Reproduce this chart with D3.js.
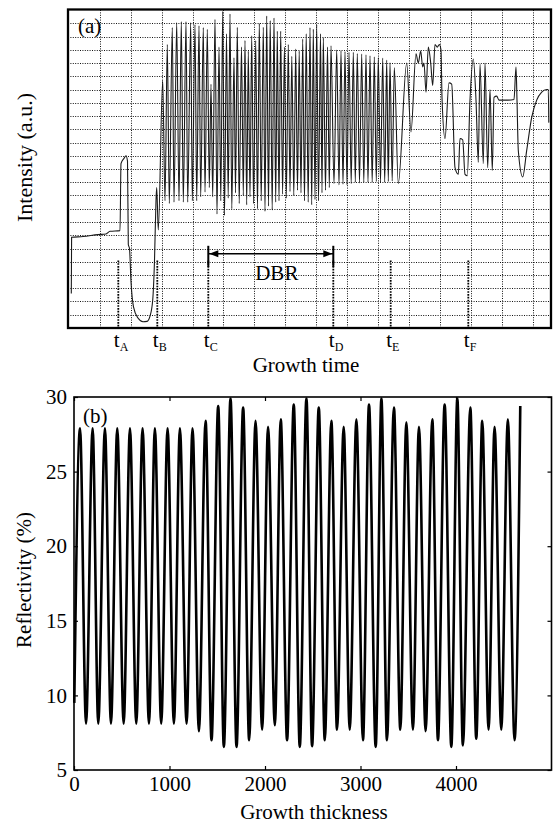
<!DOCTYPE html>
<html>
<head>
<meta charset="utf-8">
<script src="https://cdn.jsdelivr.net/npm/d3@7"></script>
<style>
  body { margin: 0; background: #fff; }
  text { font-family: "Liberation Serif", "DejaVu Serif", serif; fill: #000; }
</style>
</head>
<body>
<script>
// Panel (a): in-situ intensity trace vs growth time, panel (b): reflectivity vs thickness

const width = 553;
const height = 827;

// ---- panel (a) data: [time, intensity] pieces of the trace
const introTrace = [
    [3.3, 2.6], [3.6, 6.85], [15, 6.9], [30, 7.05], [38, 7.1], [42, 7.3], [52, 7.35],
    [53, 12.4], [56, 12.8], [58, 13.0], [59.5, 12.6], [60.3, 6.3], [61.5, 6.0], [63, 3.5],
    [65.5, 1.6], [70, 0.75], [75, 0.47], [79, 0.5], [82, 0.9], [84.7, 2.1], [86.5, 5.1],
    [88, 9.6], [88.7, 10.6]
];
const bufferTrace = [
    [90.3, 7.4], [94.7, 18.7], [97, 9.6], [99.3, 21.4], [101.3, 9.4], [104.3, 22.67],
    [106, 9.5], [108.7, 23.05], [111, 9.6], [113.3, 23.13], [115.3, 9.5], [118, 23.13],
    [119.7, 9.5], [122.7, 23.05], [124.3, 9.6], [127, 22.9], [128.7, 9.6], [131, 22.8],
    [132.7, 9.9], [135.3, 22.67], [137, 10.26], [139.3, 22.55], [141.3, 10.6]
];
const dbrTrace = [
    [143, 18.4], [144.7, 9.9], [147, 23.3], [149, 8.6], [151, 21.2], [152.8, 9.6],
    [154.7, 23.9], [156.5, 8.5], [158.5, 22.2], [160.2, 9.8], [162, 23.7], [163.8, 9.0],
    [166, 20.4], [167.5, 10.2], [169.3, 22.7], [171.2, 9.4], [173.5, 21.2], [175.3, 10.0],
    [177, 21.7], [178.7, 9.3], [180.3, 20.9], [182, 9.9], [183.7, 22.05], [185.6, 9.4],
    [187.7, 21.7], [189.5, 9.0], [191.3, 23.0], [193.2, 9.6], [195.3, 22.7], [197, 8.8],
    [198.7, 23.55], [200.5, 9.2], [202.2, 23.2], [204.2, 8.9], [206, 23.4], [207.7, 9.5],
    [209.3, 22.4], [211, 9.6], [212.7, 22.4], [214.6, 10.1], [216.4, 21.2], [218.3, 9.8],
    [220.3, 21.4], [222, 10.3], [223.8, 20.5], [225.8, 10.0], [227.7, 21.05], [229.5, 10.4],
    [231.2, 20.9], [233, 10.2], [234.7, 21.8], [236.5, 9.6], [238.2, 22.2], [240.2, 9.5],
    [242, 22.67], [243.7, 9.3], [245.3, 22.55], [247, 9.7], [248.7, 22.9], [250.5, 9.6],
    [252.5, 22.2], [254, 10.2], [255.3, 21.9], [257.5, 10.4], [259.5, 21.2], [261.3, 10.6],
    [263, 21.3], [266, 10.9]
];
const tailTrace = [
    [268.7, 20.97], [271, 10.8], [273, 20.92], [275, 10.85], [277, 20.87], [279, 10.8],
    [281, 20.8], [283.2, 10.9], [285.3, 20.8], [287.3, 11.0], [289.3, 20.72], [291.5, 10.95],
    [293.7, 20.67], [295.8, 11.0], [298, 20.62], [300, 11.0], [302, 20.54], [304.2, 11.0],
    [306.3, 20.47], [308.3, 11.05], [310.3, 20.42], [312.5, 11.0], [314.7, 20.37], [316.7, 11.0],
    [318.7, 20.22], [320.3, 11.05], [322, 20.04], [324.2, 11.1], [326.3, 19.66], [330.3, 10.9]
];
const endTrace = [
    [338.7, 20.0], [343, 14.8], [348, 20.7], [350.3, 20.0], [352.7, 20.9], [354.7, 19.7],
    [356, 20.0], [358, 17.8], [360.3, 21.2], [362.7, 20.0], [364.7, 18.3], [367, 21.4],
    [369.3, 21.2], [371.3, 21.4], [373, 21.0], [374, 17.4], [377, 14.3], [381, 18.5],
    [383.7, 18.4], [387, 12.1], [390.3, 11.6], [392, 14.3], [394.7, 14.2], [397, 11.6],
    [399.3, 11.5], [402, 17.2], [405.3, 20.3], [408, 17.2], [410.3, 12.5], [412, 19.9],
    [415.3, 12.4], [417, 20.0], [419.7, 12.1], [422, 18.0], [424.3, 11.9], [426, 17.4],
    [428.7, 17.5], [431, 17.2], [440, 17.2], [446, 17.25], [448, 19.7], [449, 17.2],
    [450.3, 13.4], [454.7, 11.4], [458.7, 13.4], [463.7, 15.9], [468.7, 17.2], [473.7, 17.8],
    [478.7, 18.0], [480.3, 18.0], [480.8, 15.5]
];
const gridTimes = [32, 63, 94, 125, 155, 186, 217, 248, 279, 310, 341, 372, 403, 434, 465];
const gridLevels = d3.range(1, 24);
const markerNames = ["A", "B", "C", "D", "E", "F"];
const markerTimes = [50.3, 89.3, 140.3, 265.3, 322.7, 400.3];

// ---- panel (b) data: extrema of the reflectivity oscillation
const reflStart = [3, 9.5];
const reflPeakX = [63, 195, 324, 453, 586, 718, 847, 980, 1109, 1241, 1378, 1510, 1639, 1771,
    1901, 2032, 2165, 2301, 2434, 2563, 2695, 2824, 2957, 3089, 3219, 3350, 3480, 3612, 3752,
    3881, 4014, 4150, 4275, 4404, 4543, 4673];
const reflPeakY = [27.9, 27.9, 27.9, 27.9, 27.9, 27.9, 27.9, 27.9, 27.9, 27.9, 28.4, 29.4, 29.9,
    29.3, 28.4, 28.0, 28.5, 29.5, 29.9, 29.3, 28.4, 28.0, 28.5, 29.5, 29.9, 29.3, 28.3, 28.0,
    28.5, 29.5, 29.9, 29.3, 28.4, 28.0, 28.5, 29.4];
const reflTroughX = [126, 254, 387, 520, 652, 785, 913, 1046, 1179, 1308, 1440, 1569, 1702, 1834,
    1970, 2103, 2231, 2364, 2493, 2626, 2754, 2887, 3026, 3159, 3277, 3417, 3549, 3682, 3811,
    3951, 4072, 4212, 4341, 4474, 4613];
const reflTroughY = [8.1, 8.1, 8.1, 8.1, 8.1, 8.1, 8.1, 8.1, 8.1, 7.6, 7.0, 6.55, 6.55, 7.0, 7.7,
    8.0, 7.0, 6.55, 6.6, 7.0, 7.7, 7.7, 7.0, 6.55, 7.0, 7.7, 7.7, 7.6, 7.0, 6.55, 6.65, 7.1, 7.7,
    7.7, 7.0];
const xTicksB = [0, 1000, 2000, 3000, 4000];
const yTicksB = [5, 10, 15, 20, 25, 30];

const svg = d3.select("body").append("svg")
    .attr("width", width)
    .attr("height", height);

// ================= panel (a) =================
const xA = d3.scaleLinear().domain([0, 483]).range([68, 551]);
const yA = d3.scaleLinear().domain([0, 24]).range([328, 10]);

const gA = svg.append("g");

gA.append("clipPath").attr("id", "clipA")
    .append("rect")
    .attr("x", xA(0)).attr("y", yA(24))
    .attr("width", xA(483) - xA(0)).attr("height", yA(0) - yA(24));

// dotted grid
gA.selectAll(".vgrid")
    .data(gridTimes)
    .enter().append("line")
    .attr("class", "vgrid")
    .attr("x1", d => Math.round(xA(d)) + 0.5).attr("x2", d => Math.round(xA(d)) + 0.5)
    .attr("y1", yA(24)).attr("y2", yA(0))
    .attr("stroke", "#111").attr("stroke-width", 1)
    .attr("stroke-dasharray", "1,1.4");

gA.selectAll(".hgrid")
    .data(gridLevels)
    .enter().append("line")
    .attr("class", "hgrid")
    .attr("x1", xA(0)).attr("x2", xA(483))
    .attr("y1", d => Math.round(yA(d)) + 0.5).attr("y2", d => Math.round(yA(d)) + 0.5)
    .attr("stroke", "#111").attr("stroke-width", 1)
    .attr("stroke-dasharray", "1,1.4");

// marker lines t_A .. t_F
gA.selectAll(".marker")
    .data(markerTimes)
    .enter().append("line")
    .attr("class", "marker")
    .attr("x1", d => xA(d)).attr("x2", d => xA(d))
    .attr("y1", yA(5.1)).attr("y2", yA(0))
    .attr("stroke", "#000").attr("stroke-width", 1.8)
    .attr("stroke-dasharray", "1.6,1.2");

// intensity trace
const traceA = introTrace.concat(bufferTrace, dbrTrace, tailTrace, endTrace);
const lineA = d3.line()
    .x(d => xA(d[0]))
    .y(d => yA(d[1]))
    .curve(d3.curveMonotoneX);

gA.append("path")
    .datum(traceA)
    .attr("clip-path", "url(#clipA)")
    .attr("d", lineA)
    .attr("fill", "none")
    .attr("stroke", "#1a1a1a")
    .attr("stroke-width", 1.1);

// DBR arrow between t_C and t_D
const tC = markerTimes[2], tD = markerTimes[3];
const arrowY = yA(5.6);
gA.append("line")
    .attr("x1", xA(tC)).attr("x2", xA(tD))
    .attr("y1", arrowY).attr("y2", arrowY)
    .attr("stroke", "#000").attr("stroke-width", 1.6);
[tC, tD].forEach(t => {
    gA.append("line")
        .attr("x1", xA(t)).attr("x2", xA(t))
        .attr("y1", arrowY - 8).attr("y2", arrowY + 13)
        .attr("stroke", "#000").attr("stroke-width", 2);
});
gA.append("path")
    .attr("d", `M${xA(tC) + 1},${arrowY} L${xA(tC) + 10},${arrowY - 3.5} L${xA(tC) + 10},${arrowY + 3.5} Z`)
    .attr("fill", "#000");
gA.append("path")
    .attr("d", `M${xA(tD) - 1},${arrowY} L${xA(tD) - 10},${arrowY - 3.5} L${xA(tD) - 10},${arrowY + 3.5} Z`)
    .attr("fill", "#000");
gA.append("text")
    .attr("x", xA((tC + tD) / 2) + 6)
    .attr("y", 280)
    .attr("text-anchor", "middle")
    .attr("font-size", "21px")
    .text("DBR");

// frame
gA.append("rect")
    .attr("x", xA(0)).attr("y", yA(24) - 0.5)
    .attr("width", xA(483) - xA(0)).attr("height", yA(0) - yA(24) + 0.5)
    .attr("fill", "none").attr("stroke", "#000").attr("stroke-width", 2.3);

gA.append("text")
    .attr("x", 78).attr("y", 33)
    .attr("font-size", "21px")
    .text("(a)");

// marker labels t_A ...
const markerLabels = gA.selectAll(".mlabel")
    .data(markerTimes)
    .enter().append("text")
    .attr("class", "mlabel")
    .attr("x", d => xA(d) - 4.5)
    .attr("y", 347)
    .attr("font-size", "21px");
markerLabels.append("tspan").text("t");
markerLabels.append("tspan")
    .attr("font-size", "12px")
    .attr("dy", 4)
    .text((d, i) => markerNames[i]);

gA.append("text")
    .attr("x", 306).attr("y", 372)
    .attr("text-anchor", "middle")
    .attr("font-size", "21px")
    .text("Growth time");

gA.append("text")
    .attr("transform", "translate(31.5,157.5) rotate(-90)")
    .attr("text-anchor", "middle")
    .attr("font-size", "22px")
    .text("Intensity (a.u.)");

// ================= panel (b) =================
const xB = d3.scaleLinear().domain([0, 5000]).range([74, 551.5]);
const yB = d3.scaleLinear().domain([5, 30]).range([770, 397]);

const gB = svg.append("g");

const reflSeries = [reflStart];
reflPeakX.forEach((x, i) => {
    reflSeries.push([x, reflPeakY[i]]);
    if (i < reflTroughX.length) reflSeries.push([reflTroughX[i], reflTroughY[i]]);
});

const lineB = d3.line()
    .x(d => xB(d[0]))
    .y(d => yB(d[1]))
    .curve(d3.curveMonotoneX);

gB.append("path")
    .datum(reflSeries)
    .attr("d", lineB)
    .attr("fill", "none")
    .attr("stroke", "#000")
    .attr("stroke-width", 2.6)
    .attr("stroke-linejoin", "round");

function styleAxis(g) {
    g.select(".domain").remove();
    g.selectAll(".tick line").attr("stroke", "#000").attr("stroke-width", 1.2);
    g.selectAll(".tick text")
        .attr("font-family", "'Liberation Serif', 'DejaVu Serif', serif")
        .attr("font-size", "21px")
        .attr("fill", "#000");
}

gB.append("g")
    .attr("transform", `translate(0,${yB(5)})`)
    .call(d3.axisBottom(xB).tickValues(xTicksB).tickSize(-4).tickPadding(6).tickFormat(d3.format("d")))
    .call(styleAxis);
gB.append("g")
    .attr("transform", `translate(0,${yB(30)})`)
    .call(d3.axisTop(xB).tickValues(xTicksB).tickSize(-4).tickFormat(""))
    .call(styleAxis);
gB.append("g")
    .attr("transform", `translate(${xB(0)},0)`)
    .call(d3.axisLeft(yB).tickValues(yTicksB).tickSize(-4).tickPadding(7))
    .call(styleAxis);
gB.append("g")
    .attr("transform", `translate(${xB(5000)},0)`)
    .call(d3.axisRight(yB).tickValues(yTicksB).tickSize(-4).tickFormat(""))
    .call(styleAxis);

gB.append("rect")
    .attr("x", xB(0)).attr("y", yB(30))
    .attr("width", xB(5000) - xB(0)).attr("height", yB(5) - yB(30))
    .attr("fill", "none").attr("stroke", "#000").attr("stroke-width", 1.6);

gB.append("text")
    .attr("x", 83).attr("y", 423)
    .attr("font-size", "21px")
    .text("(b)");

gB.append("text")
    .attr("x", 314).attr("y", 819)
    .attr("text-anchor", "middle")
    .attr("font-size", "21px")
    .text("Growth thickness");

gB.append("text")
    .attr("transform", "translate(31,580) rotate(-90)")
    .attr("text-anchor", "middle")
    .attr("font-size", "21px")
    .text("Reflectivity (%)");
</script>
</body>
</html>
